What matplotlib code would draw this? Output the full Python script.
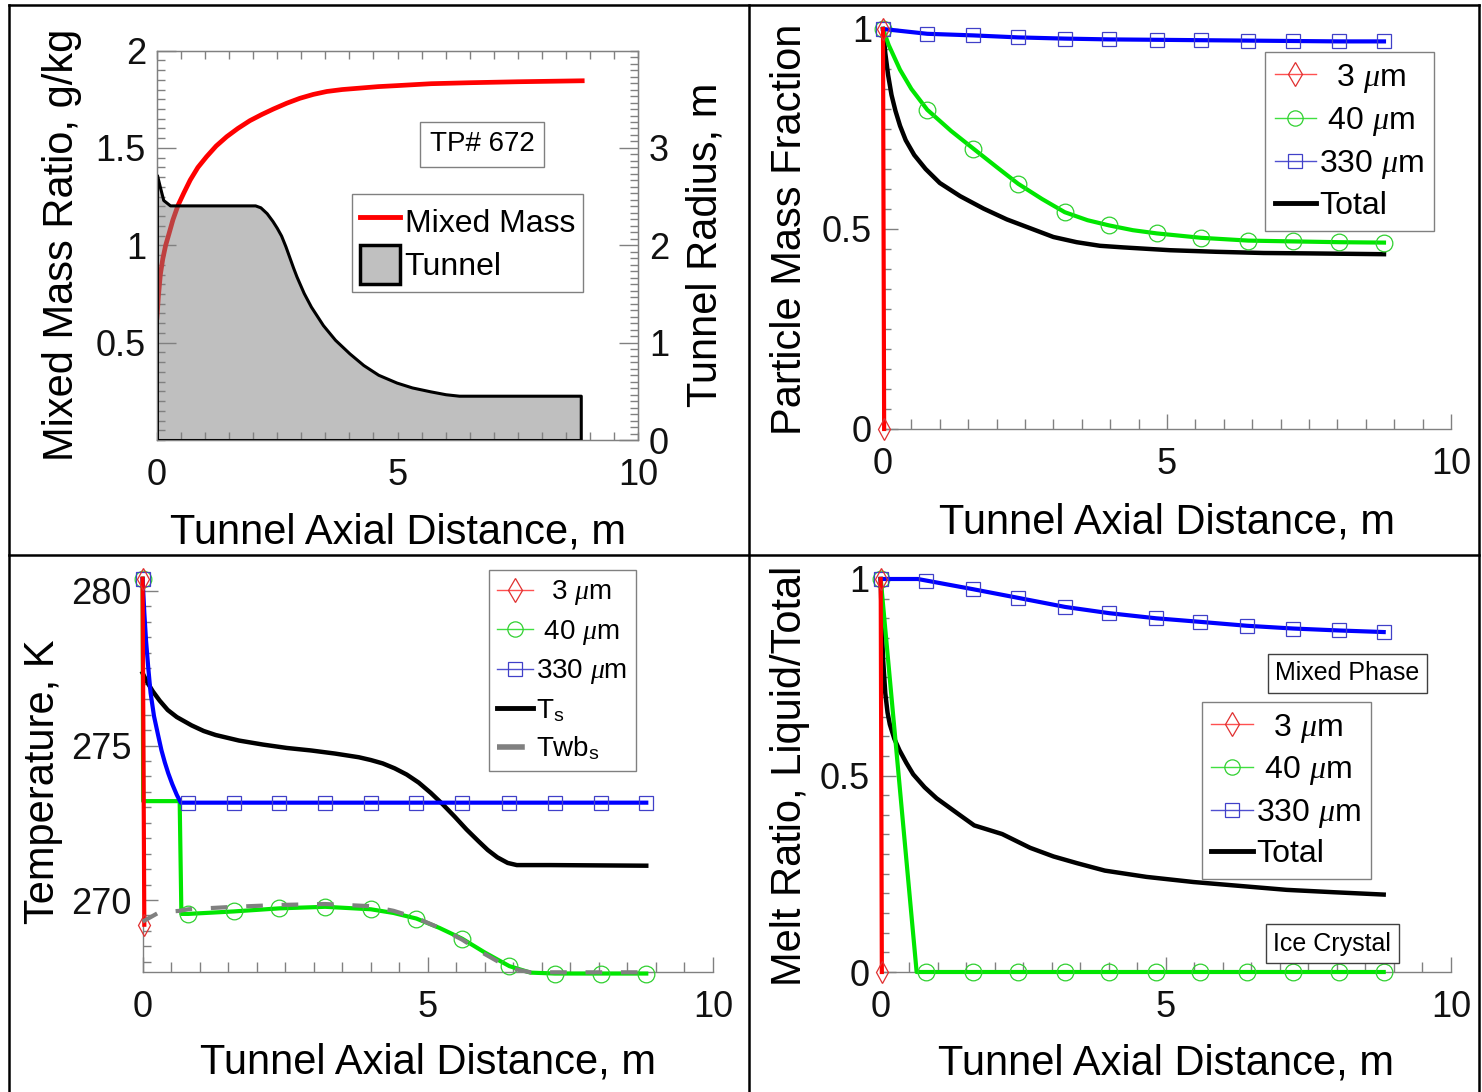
import numpy as np
import matplotlib
matplotlib.use("Agg")
import matplotlib.pyplot as plt
from matplotlib.lines import Line2D
from matplotlib.patches import Patch
from matplotlib.ticker import MultipleLocator, FixedLocator, FuncFormatter

plt.rcParams['font.family'] = ['Liberation Sans', 'DejaVu Sans']
plt.rcParams['mathtext.fontset'] = 'custom'
plt.rcParams['mathtext.rm'] = 'Liberation Sans'
plt.rcParams['mathtext.it'] = 'Liberation Serif:italic'

# ---------------- data ----------------
XLABEL = "Tunnel Axial Distance, m"

# panel 1: mixed mass ratio (left axis) and tunnel radius (right axis)
mix_x = [0, 0.03, 0.07, 0.12, 0.18, 0.25, 0.33, 0.44, 0.56, 0.69, 0.85, 1.03,
         1.23, 1.45, 1.68, 1.93, 2.18, 2.42, 2.7, 2.97, 3.25, 3.53, 3.85, 4.2,
         4.6, 4.98, 5.7, 6.5, 7.5, 8.84]
mix_y = [0.63, 0.74, 0.85, 0.93, 1.0, 1.06, 1.13, 1.207, 1.27, 1.335, 1.40,
         1.455, 1.51, 1.558, 1.60, 1.64, 1.672, 1.70, 1.73, 1.755, 1.775, 1.79,
         1.80, 1.807, 1.815, 1.82, 1.83, 1.835, 1.84, 1.845]
tunnel_x = [0, 0.06, 0.13, 0.27, 2.04, 2.15, 2.28, 2.4, 2.49, 2.58, 2.67, 2.75,
            2.83, 2.9, 3.05, 3.2, 3.45, 3.7, 4.0, 4.29, 4.6, 4.98, 5.3, 5.68,
            6.0, 6.28, 8.81]
tunnel_r = [2.72, 2.60, 2.465, 2.41, 2.41, 2.39, 2.33, 2.25, 2.18, 2.10, 1.99,
            1.88, 1.77, 1.68, 1.51, 1.37, 1.18, 1.03, 0.89, 0.77, 0.67, 0.59,
            0.54, 0.50, 0.47, 0.455, 0.455]

# panel 2: particle mass fraction
pm_red_x = [0, 0.02]
pm_red_y = [1.0, 0.0]
pm_green_x = [0, 0.1, 0.3, 0.5, 0.78, 1.2, 1.59, 2.0, 2.38, 2.8, 3.2, 3.6, 3.98,
              4.4, 4.82, 5.6, 6.43, 7.21, 8.03, 8.82]
pm_green_y = [1.0, 0.96, 0.898, 0.85, 0.798, 0.745, 0.701, 0.655, 0.613, 0.575,
              0.542, 0.522, 0.509, 0.497, 0.489, 0.478, 0.471, 0.469, 0.467, 0.466]
pm_green_sym = [0, 4, 6, 8, 10, 12, 14, 15, 16, 17, 18, 19]
pm_blue_x = [0, 0.78, 1.59, 2.38, 3.2, 3.98, 4.82, 5.6, 6.43, 7.21, 8.03, 8.82]
pm_blue_y = [1.0, 0.988, 0.984, 0.979, 0.976, 0.974, 0.973, 0.972, 0.971, 0.970,
             0.969, 0.969]
pm_tot_x = [0, 0.04, 0.09, 0.15, 0.22, 0.3, 0.4, 0.55, 0.75, 1.0, 1.36, 1.77,
            2.18, 2.59, 3.0, 3.41, 3.82, 4.23, 5.05, 5.87, 6.7, 7.52, 8.82]
pm_tot_y = [1.0, 0.94, 0.885, 0.835, 0.795, 0.758, 0.722, 0.685, 0.65, 0.615,
            0.582, 0.551, 0.524, 0.502, 0.480, 0.467, 0.458, 0.454, 0.447, 0.443,
            0.440, 0.439, 0.437]

# panel 3: temperature
t_red_x = [0, 0.03]
t_red_y = [280.4, 269.2]
t_green_x = [0, 0.01, 0.65, 0.68, 0.8, 1.6, 2.4, 3.2, 4.0, 4.4, 4.8, 5.2, 5.6,
             6.0, 6.43, 6.8, 7.23, 8.03, 8.83]
t_green_y = [280.4, 273.2, 273.2, 269.55, 269.55, 269.63, 269.73, 269.78, 269.7,
             269.58, 269.4, 269.1, 268.75, 268.3, 267.86, 267.65, 267.62, 267.62,
             267.62]
t_green_sym = [0, 4, 5, 6, 7, 8, 10, 12, 14, 16, 17, 18]
t_blue_x = [0, 0.03, 0.06, 0.1, 0.14, 0.2, 0.27, 0.33, 0.39, 0.45, 0.52, 0.6,
            0.67, 0.8, 1.6, 2.4, 3.2, 4.0, 4.8, 5.6, 6.43, 7.23, 8.03, 8.83]
t_blue_y = [280.39, 279.3, 278.4, 277.5, 276.7, 275.95, 275.35, 274.85, 274.45,
            274.1, 273.75, 273.4, 273.15, 273.15, 273.15, 273.15, 273.15, 273.15,
            273.15, 273.15, 273.15, 273.15, 273.15, 273.15]
t_blue_sym = [0, 13, 14, 15, 16, 17, 18, 19, 20, 21, 22, 23]
ts_x = [0, 0.08, 0.18, 0.3, 0.44, 0.6, 0.86, 1.07, 1.28, 1.69, 2.11, 2.53, 2.95,
        3.37, 3.79, 4.0, 4.21, 4.42, 4.63, 4.84, 5.05, 5.26, 5.47, 5.68, 5.89,
        6.05, 6.22, 6.4, 6.56, 7.15, 8.83]
ts_y = [277.34, 277.05, 276.75, 276.45, 276.15, 275.92, 275.65, 275.47, 275.34,
        275.16, 275.03, 274.92, 274.84, 274.74, 274.62, 274.53, 274.42, 274.26,
        274.06, 273.8, 273.47, 273.1, 272.7, 272.28, 271.9, 271.62, 271.38,
        271.2, 271.13, 271.13, 271.11]
twb_x = [0, 0.28, 0.65, 0.8, 1.6, 2.4, 3.2, 4.0, 4.4, 4.8, 5.2, 5.6, 6.0, 6.43,
         6.8, 7.23, 8.03, 8.83]
twb_y = [269.3, 269.59, 269.65, 269.7, 269.78, 269.84, 269.87, 269.8, 269.65,
         269.42, 269.1, 268.72, 268.25, 267.8, 267.66, 267.66, 267.66, 267.66]

# panel 4: melt ratio
mr_red_x = [0, 0.02]
mr_red_y = [1.0, 0.0]
mr_green_x = [0, 0.63, 0.8, 1.62, 2.41, 3.23, 4.01, 4.83, 5.6, 6.42, 7.23, 8.04, 8.82]
mr_green_y = [1.0, 0, 0, 0, 0, 0, 0, 0, 0, 0, 0, 0, 0]
mr_blue_x = [0, 0.65, 0.8, 1.62, 2.41, 3.23, 4.01, 4.83, 5.6, 6.42, 7.23, 8.04, 8.82]
mr_blue_y = [1.0, 1.0, 0.996, 0.974, 0.952, 0.929, 0.913, 0.900, 0.891, 0.881,
             0.874, 0.869, 0.865]
mr_sym = [0, 2, 3, 4, 5, 6, 7, 8, 9, 10, 11, 12]
mr_tot_x = [0, 0.02, 0.04, 0.08, 0.12, 0.16, 0.24, 0.33, 0.45, 0.57, 0.77, 0.98,
            1.19, 1.39, 1.64, 2.13, 2.62, 3.03, 3.44, 3.93, 4.66, 5.48, 6.3, 7.12,
            7.94, 8.82]
mr_tot_y = [1.0, 0.88, 0.80, 0.71, 0.66, 0.63, 0.593, 0.564, 0.532, 0.503, 0.47,
            0.442, 0.42, 0.399, 0.373, 0.351, 0.316, 0.294, 0.277, 0.258, 0.242,
            0.229, 0.219, 0.209, 0.203, 0.197]

# ---------------- styles ----------------
GRAY = '#808080'
RED, GREEN, BLUE = '#ff0000', '#00e600', '#0000ff'
MRED, MGREEN, MBLUE = '#e03030', '#30d030', '#4040c8'

W, H = 1482, 1092
fig = plt.figure(figsize=(W / 100, H / 100), dpi=100)


def place(l, r, t, b):
    return fig.add_axes([l / W, 1 - b / H, (r - l) / W, (b - t) / H])


fmt = FuncFormatter(lambda v, p: f'{v:g}')


def style(ax, yticks, ymin, box=False):
    for s in ax.spines.values():
        s.set_color(GRAY)
        s.set_linewidth(1.0)
    if not box:
        ax.spines['top'].set_visible(False)
        ax.spines['right'].set_visible(False)
    ax.set_xlim(0, 10)
    ax.xaxis.set_major_locator(MultipleLocator(5))
    ax.xaxis.set_minor_locator(MultipleLocator(0.5))
    ax.yaxis.set_major_locator(FixedLocator(yticks))
    ax.yaxis.set_minor_locator(MultipleLocator(ymin))
    ax.xaxis.set_major_formatter(fmt)
    ax.yaxis.set_major_formatter(fmt)
    ax.tick_params(which='both', direction='in', color=GRAY, width=1.0,
                   top=box, right=False, labelcolor='#111111')
    ax.tick_params(axis='x', which='major', length=11, labelsize=26, pad=13)
    ax.tick_params(axis='x', which='minor', length=7)
    ax.tick_params(axis='y', which='major', length=11, labelsize=26, pad=8)
    ax.tick_params(axis='y', which='minor', length=5.5)


def labels(ax, ylabel, xl_y, yl_x):
    ax.set_xlabel(XLABEL, fontsize=30)
    ax.xaxis.set_label_coords(0.5, xl_y)
    ax.xaxis.label.set_va('center')
    ax.set_ylabel(ylabel, fontsize=30)
    ax.yaxis.set_label_coords(yl_x, 0.5)
    ax.yaxis.label.set_va('center')


def sizes_legend(ax, anchor, fs, extra, spacing):
    hs = [Line2D([], [], color='#ff5050', lw=1.0, marker='d', ms=12, mfc='none', mec=MRED, mew=0.9),
          Line2D([], [], color='#40e040', lw=1.0, marker='o', ms=11, mfc='none', mec=MGREEN, mew=0.9),
          Line2D([], [], color='#5050d0', lw=1.0, marker='s', ms=10, mfc='none', mec=MBLUE, mew=0.9)]
    labs = ['  3 $\\mu$m', ' 40 $\\mu$m', '330 $\\mu$m']
    for h, l in extra:
        hs.append(h)
        labs.append(l)
    leg = ax.legend(hs, labs, loc='upper left', bbox_to_anchor=anchor, borderaxespad=0,
                    fontsize=fs, handlelength=1.3, handletextpad=0.1, borderpad=0.3,
                    labelspacing=spacing, fancybox=False, framealpha=1, edgecolor=GRAY)
    leg.get_frame().set_linewidth(1.0)
    return leg


def sym_line(ax, x, y, color, mcolor, marker, ms, every, lw=3.0):
    ax.plot(x, y, color=color, lw=lw, marker=marker, ms=ms, mfc='none', mec=mcolor,
            mew=0.9, markevery=every, clip_on=False, zorder=3)


# ---------------- panel 1 ----------------
ax1 = place(157, 638, 50.6, 440)
style(ax1, [0.5, 1, 1.5, 2], 0.05, box=True)
ax1.set_ylim(0, 2)
ax1.tick_params(axis='x', which='both', length=6)
ax1.tick_params(axis='y', which='minor', length=6)
ax1.tick_params(axis='y', which='major', length=14)
labels(ax1, "Mixed Mass Ratio, g/kg", -0.238, -0.1975)

ax1r = ax1.twinx()
ax1r.set_ylim(0, 4)
for s in ax1r.spines.values():
    s.set_color(GRAY)
ax1r.yaxis.set_major_locator(FixedLocator([0, 1, 2, 3]))
ax1r.yaxis.set_minor_locator(MultipleLocator(1 / 15))
ax1r.yaxis.set_major_formatter(fmt)
ax1r.tick_params(which='both', direction='in', color=GRAY, width=1.0)
ax1r.tick_params(which='major', length=14, labelsize=26, pad=8, labelcolor='#111111')
ax1r.tick_params(which='minor', length=6)
ax1r.set_ylabel("Tunnel Radius, m", fontsize=30)
ax1r.yaxis.set_label_coords(1.141, 0.5)
ax1r.yaxis.label.set_va('center')

ax1r.plot(mix_x, mix_y, color=RED, lw=3.4, transform=ax1.transData, zorder=1.5)
ax1r.fill_between(tunnel_x, 0, tunnel_r, facecolor=(0.5, 0.5, 0.5, 0.5),
                  edgecolor='black', lw=2.2, zorder=2)
leg1 = ax1r.legend([Line2D([], [], color=RED, lw=3.5),
                    Patch(facecolor='#c0c0c0', edgecolor='black', lw=2.5)],
                   ['Mixed Mass', 'Tunnel'], loc='upper left',
                   bbox_to_anchor=(0.405, 0.632), borderaxespad=0, fontsize=23,
                   handlelength=1.25, handleheight=1.5, handletextpad=0.15,
                   borderpad=0.25, labelspacing=0.12, fancybox=False, framealpha=1,
                   edgecolor=GRAY)
leg1.get_frame().set_linewidth(1.0)
ax1r.text(0.676, 0.759, 'TP# 672', transform=ax1r.transAxes, ha='center',
          va='center', fontsize=20,
          bbox=dict(boxstyle='square,pad=0.35', fc='white', ec=GRAY, lw=1.0))

# ---------------- panel 2 ----------------
ax2 = place(883, 1451, 29, 429)
style(ax2, [0, 0.5, 1], 0.05)
ax2.set_ylim(0, 1)
labels(ax2, "Particle Mass Fraction", -0.235, -0.164)
ax2.plot(pm_tot_x, pm_tot_y, color='black', lw=3.2, clip_on=False, zorder=2.5)
sym_line(ax2, pm_green_x, pm_green_y, GREEN, MGREEN, 'o', 12, pm_green_sym)
sym_line(ax2, pm_blue_x, pm_blue_y, BLUE, MBLUE, 's', 10.5, None)
sym_line(ax2, pm_red_x, pm_red_y, RED, MRED, 'd', 11, None)
sizes_legend(ax2, (0.6725, 0.9425), 23,
             [(Line2D([], [], color='black', lw=3.5), 'Total')], 0.32)

# ---------------- panel 3 ----------------
ax3 = place(142.6, 713, 591, 972)
style(ax3, [270, 275, 280], 0.5)
ax3.set_ylim(267.67, 280)
labels(ax3, "Temperature, K", -0.238, -0.175)
ax3.plot(ts_x, ts_y, color='black', lw=3.2, clip_on=False, zorder=2.5)
sym_line(ax3, t_green_x, t_green_y, GREEN, MGREEN, 'o', 12, t_green_sym)
ax3.plot(twb_x, twb_y, color=GRAY, lw=3.0, ls=(0, (4, 4.5)), clip_on=False, zorder=3.5)
sym_line(ax3, t_blue_x, t_blue_y, BLUE, MBLUE, 's', 10.5, t_blue_sym)
sym_line(ax3, t_red_x, t_red_y, RED, MRED, 'd', 11, None)
sizes_legend(ax3, (0.607, 1.055), 20,
             [(Line2D([], [], color='black', lw=3.5), 'T$_{\\rm s}$'),
              (Line2D([], [], color=GRAY, lw=4, ls=(0, (5, 20))), 'Twb$_{\\rm s}$')],
             0.38)

# ---------------- panel 4 ----------------
ax4 = place(880.7, 1451, 579, 972)
style(ax4, [0, 0.5, 1], 0.05)
ax4.set_ylim(0, 1)
labels(ax4, "Melt Ratio, Liquid/Total", -0.232, -0.159)
ax4.plot(mr_tot_x, mr_tot_y, color='black', lw=3.2, clip_on=False, zorder=2.5)
sym_line(ax4, mr_green_x, mr_green_y, GREEN, MGREEN, 'o', 12, mr_sym)
sym_line(ax4, mr_blue_x, mr_blue_y, BLUE, MBLUE, 's', 10.5, mr_sym)
sym_line(ax4, mr_red_x, mr_red_y, RED, MRED, 'd', 11, None)
sizes_legend(ax4, (0.563, 0.687), 23,
             [(Line2D([], [], color='black', lw=3.5), 'Total')], 0.3)
box = dict(boxstyle='square,pad=0.3', fc='white', ec='#404040', lw=1.0)
ax4.text(0.818, 0.760, 'Mixed Phase', transform=ax4.transAxes, ha='center',
         va='center', fontsize=18, bbox=box)
ax4.text(0.792, 0.0725, 'Ice Crystal', transform=ax4.transAxes, ha='center',
         va='center', fontsize=18, bbox=box, zorder=5)

# ---------------- panel frame lines ----------------
for xs, ys in [([8.5, 8.5], [5, H]), ([749, 749], [5, H]), ([1479, 1479], [5, H]),
               ([8.5, 1479], [5, 5]), ([8.5, 1479], [555, 555])]:
    fig.add_artist(Line2D([x / W for x in xs], [1 - y / H for y in ys],
                          color='black', lw=1.8))

fig.savefig("out.png", dpi=100)
